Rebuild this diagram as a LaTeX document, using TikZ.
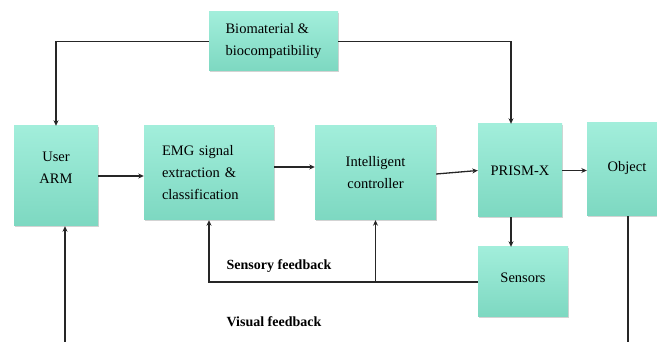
\documentclass[tikz,border=0pt]{standalone}
\usepackage{fontspec}
\setmainfont{Liberation Serif}
\usetikzlibrary{arrows.meta,shadows}
\definecolor{boxtop}{HTML}{A2EEDB}
\definecolor{boxbot}{HTML}{7DD8C1}
\tikzset{
  blk/.style={rectangle, top color=boxtop, bottom color=boxbot, draw=none,
    drop shadow={opacity=0.35, shadow xshift=1.2pt, shadow yshift=-1.5pt},
    font=\fontsize{14.5}{22}\selectfont, align=center, inner sep=0pt},
  conn/.style={line width=1.3pt, draw=black!85},
  arr/.style={conn, -{Stealth[length=5.5pt,width=5pt]}},
  lbl/.style={font=\fontsize{14}{16}\selectfont\bfseries}
}
\begin{document}
\begin{tikzpicture}[x=1pt,y=-1pt]
\useasboundingbox (0,0) rectangle (657,342);
\clip (0,0) rectangle (657,342);
\node[blk, minimum width=129pt, minimum height=59pt, align=left] (bio) at (273.5,41.5) {Biomaterial \&\\biocompatibility};
\node[blk, minimum width=84pt, minimum height=100pt, text depth=16pt] (arm) at (56,176) {User\\ARM};
\node[blk, minimum width=130pt, minimum height=94pt, align=left, text width=94pt] (emg) at (209,173) {EMG signal\\extraction \&\\classification};
\node[blk, minimum width=121pt, minimum height=94pt] (ic) at (375.5,173) {Intelligent\\controller};
\node[blk, minimum width=84pt, minimum height=93pt] (prism) at (520,170.5) {PRISM-X};
\node[blk, minimum width=80pt, minimum height=93pt, text depth=6pt] (obj) at (627,169.5) {Object};
\node[blk, minimum width=90pt, minimum height=70pt, text depth=8pt] (sens) at (523,282) {Sensors};
\node[lbl] (sfb) at (279,266) {Sensory feedback};
\node[lbl] (vfb) at (274,322) {Visual feedback};
\coordinate (armin) at (65,342);
\coordinate (objout) at (628,342);
\coordinate (junc) at (375.5,282);
% connectors
\draw[arr] (bio.west) -| (arm.north);
\draw[arr] (bio.east) -| ([xshift=-9pt]prism.north);
\draw[arr] (arm.east) -- (arm.east -| emg.west);
\draw[arr] ([yshift=6pt]emg.east) -- ([yshift=6pt]emg.east -| ic.west);
\draw[arr] ([yshift=-1pt]ic.east) -- ([yshift=0pt]prism.west);
\draw[arr] (prism.east) -- (prism.east -| obj.west);
\draw[arr] ([xshift=-9pt]prism.south) -- ([xshift=-9pt]prism.south |- sens.north);
\draw[arr] (sens.west) -| (emg.south);
\draw[arr] (junc) -- (ic.south);
\draw[arr] (armin) -- (armin |- arm.south);
\draw[conn] (obj.south -| objout) -- (objout);
\end{tikzpicture}
\end{document}
